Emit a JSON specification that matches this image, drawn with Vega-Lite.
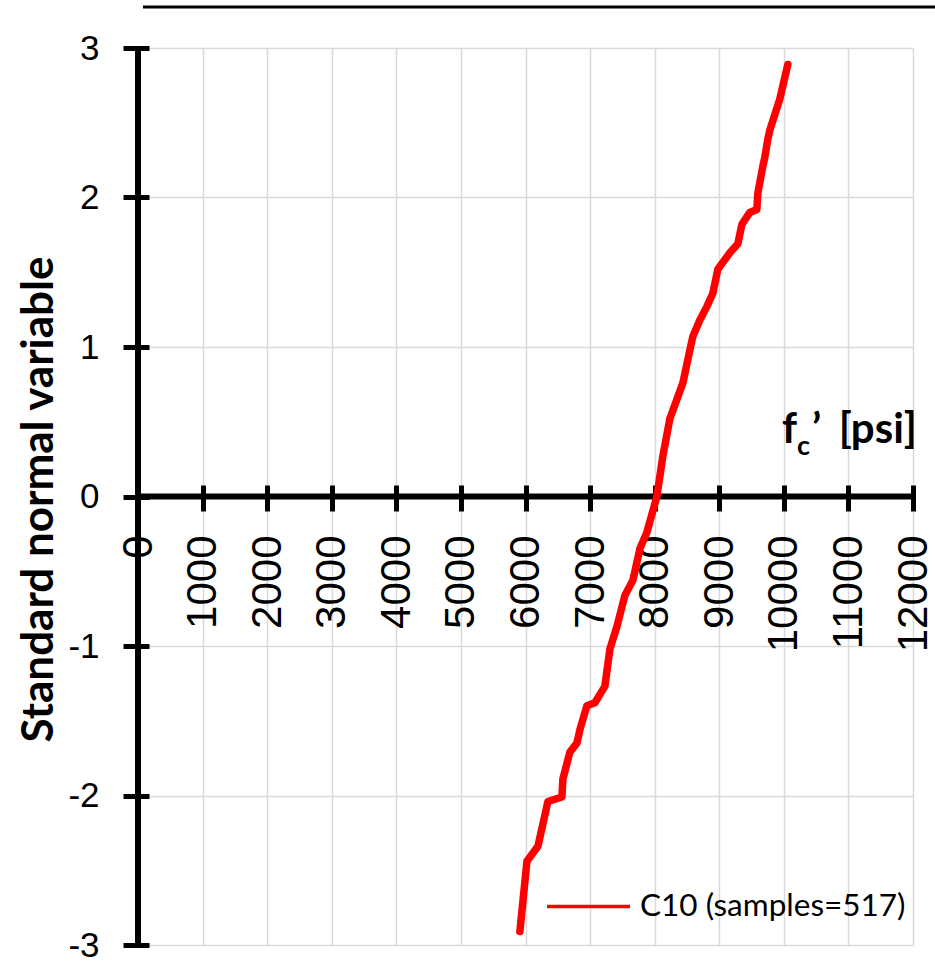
{
  "$schema": "https://vega.github.io/schema/vega-lite/v6.json",
  "width": 775,
  "height": 897,
  "autosize": {"type": "none"},
  "padding": {"left": 138, "top": 48, "right": 22, "bottom": 20},
  "background": "white",
  "config": {"view": {"stroke": null}},
  "datasets": {
    "one": [{"k": 1}],
    "curve": [
      {"psi": 5913, "z": -2.91, "series": "C10 (samples=517)"},
      {"psi": 6022, "z": -2.44, "series": "C10 (samples=517)"},
      {"psi": 6192, "z": -2.34, "series": "C10 (samples=517)"},
      {"psi": 6347, "z": -2.04, "series": "C10 (samples=517)"},
      {"psi": 6564, "z": -2.01, "series": "C10 (samples=517)"},
      {"psi": 6579, "z": -1.89, "series": "C10 (samples=517)"},
      {"psi": 6687, "z": -1.71, "series": "C10 (samples=517)"},
      {"psi": 6796, "z": -1.65, "series": "C10 (samples=517)"},
      {"psi": 6842, "z": -1.56, "series": "C10 (samples=517)"},
      {"psi": 6951, "z": -1.40, "series": "C10 (samples=517)"},
      {"psi": 7074, "z": -1.38, "series": "C10 (samples=517)"},
      {"psi": 7229, "z": -1.27, "series": "C10 (samples=517)"},
      {"psi": 7307, "z": -1.02, "series": "C10 (samples=517)"},
      {"psi": 7415, "z": -0.87, "series": "C10 (samples=517)"},
      {"psi": 7540, "z": -0.66, "series": "C10 (samples=517)"},
      {"psi": 7663, "z": -0.56, "series": "C10 (samples=517)"},
      {"psi": 7771, "z": -0.35, "series": "C10 (samples=517)"},
      {"psi": 7879, "z": -0.24, "series": "C10 (samples=517)"},
      {"psi": 8034, "z": 0.0, "series": "C10 (samples=517)"},
      {"psi": 8127, "z": 0.27, "series": "C10 (samples=517)"},
      {"psi": 8235, "z": 0.52, "series": "C10 (samples=517)"},
      {"psi": 8437, "z": 0.76, "series": "C10 (samples=517)"},
      {"psi": 8545, "z": 0.98, "series": "C10 (samples=517)"},
      {"psi": 8591, "z": 1.07, "series": "C10 (samples=517)"},
      {"psi": 8700, "z": 1.18, "series": "C10 (samples=517)"},
      {"psi": 8808, "z": 1.27, "series": "C10 (samples=517)"},
      {"psi": 8901, "z": 1.36, "series": "C10 (samples=517)"},
      {"psi": 8978, "z": 1.52, "series": "C10 (samples=517)"},
      {"psi": 9164, "z": 1.63, "series": "C10 (samples=517)"},
      {"psi": 9288, "z": 1.69, "series": "C10 (samples=517)"},
      {"psi": 9350, "z": 1.82, "series": "C10 (samples=517)"},
      {"psi": 9474, "z": 1.90, "series": "C10 (samples=517)"},
      {"psi": 9582, "z": 1.92, "series": "C10 (samples=517)"},
      {"psi": 9598, "z": 2.03, "series": "C10 (samples=517)"},
      {"psi": 9675, "z": 2.21, "series": "C10 (samples=517)"},
      {"psi": 9706, "z": 2.27, "series": "C10 (samples=517)"},
      {"psi": 9752, "z": 2.39, "series": "C10 (samples=517)"},
      {"psi": 9783, "z": 2.45, "series": "C10 (samples=517)"},
      {"psi": 9938, "z": 2.66, "series": "C10 (samples=517)"},
      {"psi": 10062, "z": 2.89, "series": "C10 (samples=517)"}
    ]
  },
  "layer": [
    {
      "data": {"name": "curve"},
      "mark": {"type": "point", "opacity": 0},
      "encoding": {
        "x": {
          "field": "psi", "type": "quantitative",
          "scale": {"domain": [0, 12000], "nice": false},
          "axis": {
            "orient": "bottom", "offset": -460,
            "values": [0, 1000, 2000, 3000, 4000, 5000, 6000, 7000, 8000, 9000, 10000, 11000, 12000],
            "format": "d", "labelAngle": -90,
            "labelFont": "Liberation Sans", "labelFontSize": 42, "labelColor": "black",
            "labelPadding": 24, "labelFlush": false, "labelOverlap": false, "labelBound": false,
            "tickSize": 26, "tickWidth": 5, "tickColor": "black",
            "domain": false, "grid": true, "gridColor": "#d9d9d9", "gridWidth": 1.5,
            "title": null
          }
        },
        "y": {
          "field": "z", "type": "quantitative",
          "scale": {"domain": [-3, 3], "nice": false, "zero": false},
          "axis": {
            "orient": "left", "offset": -11,
            "values": [-3, -2, -1, 0, 1, 2, 3],
            "labelExpr": "datum.value < 0 ? '-' + abs(datum.value) : '' + datum.value",
            "labelFont": "Liberation Sans", "labelFontSize": 35, "labelColor": "black",
            "labelPadding": 24, "labelFlush": false, "labelOverlap": false, "labelBound": false,
            "tickSize": 26, "tickWidth": 5, "tickColor": "black",
            "domain": false, "grid": true, "gridColor": "#d9d9d9", "gridWidth": 1.5,
            "title": "Standard normal variable",
            "titleFont": "Lato", "titleFontSize": 44, "titleFontWeight": "bold", "titleColor": "black",
            "titleAngle": -90, "titleBaseline": "alphabetic", "titleAlign": "center",
            "titleX": -97, "titleY": 451
          }
        }
      }
    },
    {
      "data": {"name": "one"},
      "mark": {"type": "rule", "color": "black", "strokeWidth": 3, "clip": false},
      "encoding": {
        "x": {"datum": 77, "type": "quantitative"},
        "x2": {"datum": 12400},
        "y": {"datum": 3.274, "type": "quantitative"}
      }
    },
    {
      "data": {"name": "one"},
      "mark": {"type": "rule", "color": "black", "strokeWidth": 6},
      "encoding": {
        "x": {"datum": 0, "type": "quantitative"},
        "x2": {"datum": 12000},
        "y": {"datum": 0, "type": "quantitative"}
      }
    },
    {
      "data": {"name": "one"},
      "mark": {"type": "rule", "color": "black", "strokeWidth": 6},
      "encoding": {
        "x": {"datum": 0, "type": "quantitative"},
        "y": {"datum": -3, "type": "quantitative"},
        "y2": {"datum": 3}
      }
    },
    {
      "data": {"name": "one"},
      "mark": {"type": "text", "text": "f", "font": "Lato", "fontWeight": "bold", "fontSize": 42, "align": "left", "baseline": "alphabetic", "color": "black"},
      "encoding": {
        "x": {"datum": 9972, "type": "quantitative"},
        "y": {"datum": 0.358, "type": "quantitative"}
      }
    },
    {
      "data": {"name": "one"},
      "mark": {"type": "text", "text": "c", "font": "Lato", "fontWeight": "bold", "fontSize": 27, "align": "left", "baseline": "alphabetic", "color": "black"},
      "encoding": {
        "x": {"datum": 10204, "type": "quantitative"},
        "y": {"datum": 0.278, "type": "quantitative"}
      }
    },
    {
      "data": {"name": "one"},
      "mark": {"type": "text", "text": "’", "font": "Lato", "fontWeight": "bold", "fontSize": 42, "align": "left", "baseline": "alphabetic", "color": "black"},
      "encoding": {
        "x": {"datum": 10436, "type": "quantitative"},
        "y": {"datum": 0.358, "type": "quantitative"}
      }
    },
    {
      "data": {"name": "one"},
      "mark": {"type": "text", "text": "[psi]", "font": "Lato", "fontWeight": "bold", "fontSize": 42, "align": "right", "baseline": "alphabetic", "color": "black"},
      "encoding": {
        "x": {"datum": 12062, "type": "quantitative"},
        "y": {"datum": 0.358, "type": "quantitative"}
      }
    },
    {
      "data": {"name": "curve"},
      "mark": {"type": "line", "strokeWidth": 7.5, "strokeCap": "round", "strokeJoin": "round"},
      "encoding": {
        "x": {"field": "psi", "type": "quantitative"},
        "y": {"field": "z", "type": "quantitative"},
        "order": {"field": "z", "type": "quantitative"},
        "color": {
          "field": "series", "type": "nominal",
          "scale": {"domain": ["C10 (samples=517)"], "range": ["#ff0000"]},
          "legend": {
            "title": null, "orient": "none", "legendX": 407, "legendY": 815,
            "symbolType": "stroke", "symbolSize": 6889, "symbolStrokeWidth": 3.5,
            "labelFont": "Lato", "labelFontSize": 31.5, "labelColor": "black",
            "labelOffset": 8, "padding": 0, "labelLimit": 0
          }
        }
      }
    }
  ]
}
